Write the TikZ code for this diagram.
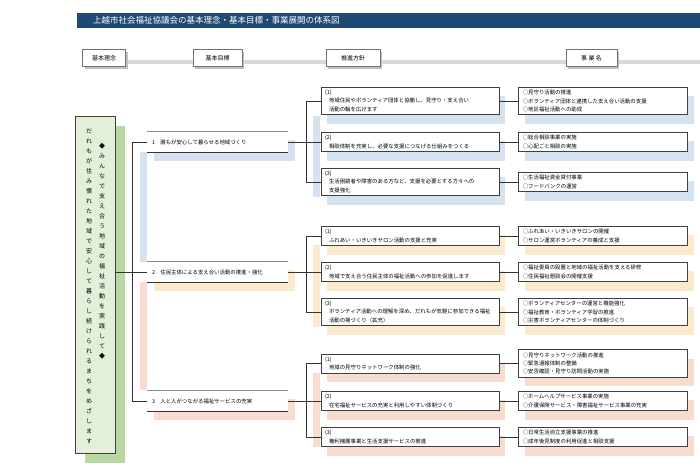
\documentclass[tikz,border=0pt]{standalone}
\usepackage{fontspec}
\setmainfont{Noto Sans CJK JP}
\usetikzlibrary{positioning,shadows}

\definecolor{navy}{HTML}{1F4A73}
\definecolor{bandblue}{HTML}{D5E3F1}
\definecolor{bandyellow}{HTML}{FBEACB}
\definecolor{bandpeach}{HTML}{F8DCCF}
\definecolor{rootgreen}{HTML}{E4EFDA}
\definecolor{rootshadow}{HTML}{B7D7A3}

% one character per line, for the vertical motto
\newcommand\tatetext[1]{\tatestep#1\relax}
\def\tatestep#1{\ifx#1\relax\else#1\\\expandafter\tatestep\fi}

\begin{document}
\begin{tikzpicture}[x=1pt, y=-1pt,
    every node/.style={inner sep=0pt},
    small/.style={font=\fontsize{5.4}{8.2}\selectfont},
    headbox/.style={draw=black!55, fill=white, minimum height=17pt, font=\fontsize{6}{7}\selectfont, drop shadow={shadow xshift=2pt, shadow yshift=-2pt, fill=black!25, opacity=1}},
    goalbox/.style={small, fill=white, minimum width=141pt, minimum height=21pt, text width=131pt, align=left, drop shadow={shadow xshift=7pt, shadow yshift=-8pt, fill=#1, opacity=1}},
    polbox/.style={small, draw=black!75, line width=0.8pt, fill=white, text width=170pt, inner xsep=4pt, inner ysep=3pt, align=left, drop shadow={shadow xshift=6pt, shadow yshift=-9pt, fill=#1, opacity=1}},
    itembox/.style={polbox=#1, text width=161pt},
    link/.style={draw=black!80, line width=0.9pt}]
    \useasboundingbox (0,0) rectangle (700,472);

    % Background bands
    \fill[bandblue] (140,152) rectangle (147,262);
    \fill[bandpeach] (140,282) rectangle (147,390);
    \fill[bandblue] (313,116) rectangle (320,197);
    \fill[bandyellow] (313,245) rectangle (320,327);
    \fill[bandpeach] (313,373) rectangle (320,447);

    % Title and header row
    \node (title) [fill=navy, text=white, minimum height=15pt, text width=591pt, inner xsep=16pt, align=left, font=\fontsize{8.5}{10}\selectfont, anchor=west] at (77,20.5) {上越市社会福祉協議会の基本理念・基本目標・事業展開の体系図};
    \coordinate (rowstart) at (82,62);
    \coordinate (rowend) at (700,62);
    \draw[line width=4pt, black!15] (rowstart) -- (rowend);
    \node (hd1) [headbox, minimum width=43pt] at (104,58) {基本理念};
    \node (hd2) [headbox, minimum width=49pt] at (217.5,58) {基本目標};
    \node (hd3) [headbox, minimum width=54pt] at (353,58) {推進方針};
    \node (hd4) [headbox, minimum width=51pt] at (591.5,58) {事 業 名};

    % Define nodes
    \node (root) [draw=black!75, line width=0.9pt, fill=rootgreen, minimum width=40pt, minimum height=337pt, drop shadow={shadow xshift=10pt, shadow yshift=-10pt, fill=rootshadow, opacity=1}] at (95,284.5) {};
    \node (motto) [anchor=north, align=center, font=\fontsize{6}{10}\selectfont] at (102,143) {\tatetext{◆みんなで支え合う地域の福祉活動を実践して◆}};
    \node (aim) [anchor=north, align=center, font=\fontsize{6}{10}\selectfont] at (89,129) {\tatetext{だれもが住み慣れた地域で安心して暮らし続けられるまちをめざします}};

    \node (g1) [goalbox=bandblue] at (217.5,142) {1\quad 誰もが安心して暮らせる地域づくり};
    \node (g2) [goalbox=bandyellow] at (217.5,272) {2\quad 住民主体による支え合い活動の推進・強化};
    \node (g3) [goalbox=bandpeach] at (217.5,401) {3\quad 人と人がつながる福祉サービスの充実};
    \foreach \g in {g1,g2,g3} {
        \draw[black!45, line width=0.8pt] (\g.north west) -- (\g.north east);
        \draw[black!80, line width=1pt] (\g.south west) -- (\g.south east);
    }

    \node (p11) [polbox=bandblue] at (410,101) {(1)\\\hspace*{4pt}地域住民やボランティア団体と協働し、見守り・支え合い\\\hspace*{4pt}活動の輪を広げます};
    \node (p12) [polbox=bandblue] at (410,142) {(2)\\\hspace*{4pt}相談体制を充実し、必要な支援につなげる仕組みをつくる};
    \node (p13) [polbox=bandblue] at (410,182) {(3)\\\hspace*{4pt}生活困窮者や障害のある方など、支援を必要とする方々への\\\hspace*{4pt}支援強化};
    \node (p21) [polbox=bandyellow] at (410,236) {(1)\\\hspace*{4pt}ふれあい・いきいきサロン活動の支援と充実};
    \node (p22) [polbox=bandyellow] at (410,272) {(2)\\\hspace*{4pt}地域で支え合う住民主体の福祉活動への参加を促進します};
    \node (p23) [polbox=bandyellow] at (410,312) {(3)\\\hspace*{4pt}ボランティア活動への理解を深め、だれもが気軽に参加できる福祉\\\hspace*{4pt}活動の場づくり（拡充）};
    \node (p31) [polbox=bandpeach] at (410,363.5) {(1)\\\hspace*{4pt}地域の見守りネットワーク体制の強化};
    \node (p32) [polbox=bandpeach] at (410,401) {(2)\\\hspace*{4pt}在宅福祉サービスの充実と利用しやすい体制づくり};
    \node (p33) [polbox=bandpeach] at (410,437) {(3)\\\hspace*{4pt}権利擁護事業と生活支援サービスの推進};

    \node (i11) [itembox=bandblue, right=19pt of p11] {○見守り活動の推進\\○ボランティア団体と連携した支え合い活動の支援\\○地区福祉活動への助成};
    \node (i12) [itembox=bandblue, right=19pt of p12] {○総合相談事業の実施\\○心配ごと相談の実施};
    \node (i13) [itembox=bandblue, right=19pt of p13] {○生活福祉資金貸付事業\\○フードバンクの運営};
    \node (i21) [itembox=bandyellow, right=19pt of p21] {○ふれあい・いきいきサロンの開催\\○サロン運営ボランティアの養成と支援};
    \node (i22) [itembox=bandyellow, right=19pt of p22] {○福祉委員の設置と地域の福祉活動を支える研修\\○住民福祉懇談会の開催支援};
    \node (i23) [itembox=bandyellow, right=19pt of p23] {○ボランティアセンターの運営と機能強化\\○福祉教育・ボランティア学習の推進\\○災害ボランティアセンターの体制づくり};
    \node (i31) [itembox=bandpeach, right=19pt of p31] {○見守りネットワーク活動の推進\\○緊急通報体制の整備\\○安否確認・見守り訪問活動の実施};
    \node (i32) [itembox=bandpeach, right=19pt of p32] {○ホームヘルプサービス事業の実施\\○介護保険サービス・障害福祉サービス事業の充実};
    \node (i33) [itembox=bandpeach, right=19pt of p33] {○日常生活自立支援事業の推進\\○成年後見制度の利用促進と相談支援};

    % Draw connectors
    \draw[link] (g2.west -| root.east) -- (g2.west);
    \draw[link] (g1.west) -- ++(-14,0) |- (g3.west);
    \draw[link] (g1) -- (p12);
    \draw[link] (g2) -- (p22);
    \draw[link] (g3) -- (p32);
    \draw[link] (p11.west) -- ++(-14,0) |- (p13.west);
    \draw[link] (p21.west) -- ++(-14,0) |- (p23.west);
    \draw[link] (p31.west) -- ++(-14,0) |- (p33.west);
    \foreach \n in {11,12,13,21,22,23,31,32,33}
        \draw[link] (p\n) -- (i\n);
\end{tikzpicture}
\end{document}
